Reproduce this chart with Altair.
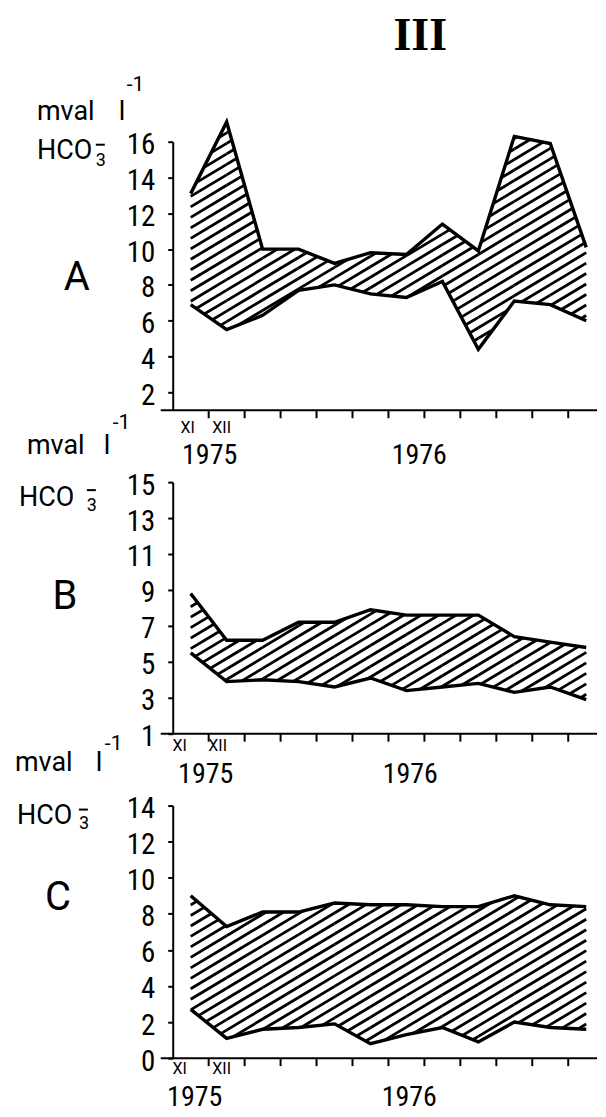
import altair as alt
import pandas as pd

# ---------------- data ----------------
months = ["XI", "XII", "I", "II", "III", "IV", "V", "VI", "VII", "VIII", "IX", "X"]

a_upper = [13.1, 17.1, 10.0, 10.0, 9.2, 9.8, 9.7, 11.4, 9.9, 16.3, 15.9, 10.1]
a_lower = [6.9, 5.5, 6.3, 7.7, 8.0, 7.5, 7.3, 8.2, 4.4, 7.1, 6.9, 6.0]

b_upper = [8.8, 6.2, 6.2, 7.2, 7.2, 7.9, 7.6, 7.6, 7.6, 6.4, 6.1, 5.8]
b_lower = [5.5, 3.9, 4.0, 3.9, 3.6, 4.1, 3.4, 3.6, 3.8, 3.3, 3.6, 2.9]

c_upper = [9.0, 7.3, 8.1, 8.1, 8.6, 8.5, 8.5, 8.4, 8.4, 9.0, 8.5, 8.4]
c_lower = [2.7, 1.1, 1.6, 1.7, 1.9, 0.8, 1.3, 1.7, 0.9, 2.0, 1.7, 1.6]

a_ticks = [2, 4, 6, 8, 10, 12, 14, 16]
b_ticks = [1, 3, 5, 7, 9, 11, 13, 15]
c_ticks = [0, 2, 4, 6, 8, 10, 12, 14]

month_bounds = list(range(1, 12))
years = ["1975", "1976"]

# ---------------- layout / style ----------------
W = 425
X_DOMAIN = [0, 11.8]
NARROW = "Liberation Sans Narrow, Roboto Condensed, Roboto, sans-serif"
SANS = "Roboto, Liberation Sans, sans-serif"
SERIF = "Liberation Serif, DejaVu Serif, serif"
HATCH_SLOPE_PX = 0.6      # pixel rise per pixel run of hatch lines
HATCH_GAP_PX = 10.5       # vertical pixel gap between hatch lines


def hatch_segments(xs, lo, hi, m, step):
    """Clip parallel hatch lines y = c + m*x to the band between lo and hi."""
    cmin = min(l - m * x for x, l in zip(xs, lo))
    cmax = max(h - m * x for x, h in zip(xs, hi))
    rows = []
    c = cmin + step * 0.5
    while c < cmax:
        for k in range(len(xs) - 1):
            x0, x1 = xs[k], xs[k + 1]
            f0 = c + m * x0 - lo[k]
            f1 = c + m * x1 - lo[k + 1]
            g0 = hi[k] - c - m * x0
            g1 = hi[k + 1] - c - m * x1
            t_lo, t_hi = 0.0, 1.0
            ok = True
            for a0, a1 in ((f0, f1), (g0, g1)):
                if a0 >= 0 and a1 >= 0:
                    continue
                if a0 < 0 and a1 < 0:
                    ok = False
                    break
                t = a0 / (a0 - a1)
                if a0 < 0:
                    t_lo = max(t_lo, t)
                else:
                    t_hi = min(t_hi, t)
            if ok and t_hi - t_lo > 1e-6:
                xa = x0 + (x1 - x0) * t_lo
                xb = x0 + (x1 - x0) * t_hi
                rows.append({"x": xa, "y": c + m * xa, "x2": xb, "y2": c + m * xb})
        c += step
    return pd.DataFrame(rows)


def text_layer(txt, x, y, size, font=SANS, align="left", baseline="alphabetic", weight="normal"):
    return alt.Chart(pd.DataFrame({"t": [txt]})).mark_text(
        font=font, fontSize=size, align=align, baseline=baseline,
        color="black", fontWeight=weight
    ).encode(text="t:N", x=alt.value(x), y=alt.value(y))


def bar_layer(x, y, length=9):
    # the small bar over the subscript 3 of HCO3-
    return alt.Chart(pd.DataFrame({"t": [0]})).mark_rule(color="black", strokeWidth=2).encode(
        x=alt.value(x), x2=alt.value(x + length), y=alt.value(y)
    )


def panel(upper, lower, ydom, yticks, H, annotations, bar_xy):
    xs = [i + 0.5 for i in range(len(months))]
    df = pd.DataFrame({"month": months, "pos": xs, "upper": upper, "lower": lower})

    px_month = W / (X_DOMAIN[1] - X_DOMAIN[0])
    px_unit = H / (ydom[1] - ydom[0])
    m = HATCH_SLOPE_PX * px_month / px_unit
    step = HATCH_GAP_PX / px_unit
    hdf = hatch_segments(xs, lower, upper, m, step)

    xscale = alt.Scale(domain=X_DOMAIN, nice=False, zero=False)
    yscale = alt.Scale(domain=ydom, nice=False, zero=False)

    yaxis = alt.Axis(values=yticks, grid=False, domain=True, domainColor="black",
                     domainWidth=2, tickColor="black", tickWidth=2, tickSize=5,
                     labelFont=NARROW, labelFontSize=29, labelColor="black",
                     labelPadding=13, labelOffset=3, title=None)

    hatch = alt.Chart(hdf).mark_rule(color="black", strokeWidth=2.8).encode(
        x=alt.X("x:Q", scale=xscale, axis=None),
        y=alt.Y("y:Q", scale=yscale, axis=yaxis),
        x2="x2:Q", y2="y2:Q",
    )
    up = alt.Chart(df).mark_line(color="black", strokeWidth=3.4).encode(
        x=alt.X("pos:Q", scale=xscale, axis=None),
        y=alt.Y("upper:Q", scale=yscale, axis=yaxis),
        order="pos:Q",
    )
    lowl = alt.Chart(df).mark_line(color="black", strokeWidth=3.4).encode(
        x=alt.X("pos:Q", scale=xscale, axis=None),
        y=alt.Y("lower:Q", scale=yscale, axis=yaxis),
        order="pos:Q",
    )
    # x axis line (extends a little left of the y axis, as drawn in the original)
    xline = alt.Chart(pd.DataFrame({"t": [0]})).mark_rule(color="black", strokeWidth=2).encode(
        x=alt.value(-12), x2=alt.value(W), y=alt.value(H)
    )
    # month boundary ticks below the x axis
    xticks = alt.Chart(pd.DataFrame({"b": month_bounds})).mark_rule(
        color="black", strokeWidth=2
    ).encode(
        x=alt.X("b:Q", scale=xscale, axis=None),
        y=alt.value(H), y2=alt.value(H + 8),
    )
    layers = [hatch, up, lowl, xline, xticks, bar_layer(*bar_xy)]
    layers += [text_layer(*a) for a in annotations]
    return alt.layer(*layers).properties(width=W, height=H)


ann_a = [
    ("III", 248, -128, 46, SERIF, "center", "top", "bold"),
    ("mval", -136, -22, 27),
    ("l", -54, -22, 27),
    ("-1", -46, -51, 21),
    ("HCO", -136, 17, 27),
    ("3", -77, 24, 18),
    ("A", -96, 137, 40, SANS, "center", "middle"),
    (months[0], 15, 287, 16, SANS, "center", "middle"),
    (months[1], 49, 287, 16, SANS, "center", "middle"),
    (years[0], 37, 315, 28, NARROW, "center", "middle"),
    (years[1], 247, 315, 28, NARROW, "center", "middle"),
]
ann_b = [
    ("mval", -146, -28, 27),
    ("l", -69, -28, 27),
    ("-1", -60, -53, 21),
    ("HCO", -154, 24, 27),
    ("3", -86, 29, 18),
    ("B", -108, 115, 40, SANS, "center", "middle"),
    (months[0], 7, 264, 16, SANS, "center", "middle"),
    (months[1], 45, 264, 16, SANS, "center", "middle"),
    (years[0], 33, 293, 28, NARROW, "center", "middle"),
    (years[1], 238, 293, 28, NARROW, "center", "middle"),
]
ann_c = [
    ("mval", -158, -35, 27),
    ("l", -77, -35, 27),
    ("-1", -68, -56, 21),
    ("HCO", -156, 18, 27),
    ("3", -94, 23, 18),
    ("C", -115, 93, 40, SANS, "center", "middle"),
    (months[0], 7, 264, 16, SANS, "center", "middle"),
    (months[1], 49, 264, 16, SANS, "center", "middle"),
    (years[0], 22, 293, 28, NARROW, "center", "middle"),
    (years[1], 237, 293, 28, NARROW, "center", "middle"),
]

pa = panel(a_upper, a_lower, [1, 16], a_ticks, 269, ann_a, (-77, 3))
pb = panel(b_upper, b_lower, [1, 15], b_ticks, 252, ann_b, (-86, 8))
pc = panel(c_upper, c_lower, [0, 14], c_ticks, 253, ann_c, (-94, 4))

chart = alt.vconcat(pa, pb, pc, spacing=72, bounds="flush").properties(
    padding={"left": 7, "top": 4, "right": 0, "bottom": 0},
    background="white",
).configure_view(stroke=None)

chart.save("out.html", embed_options={"renderer": "svg", "actions": False})
